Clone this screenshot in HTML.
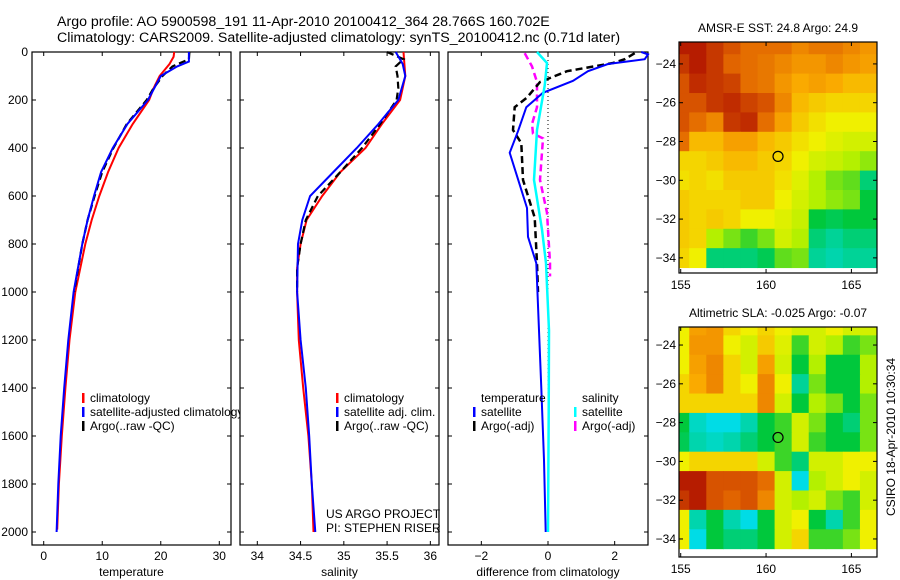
<!DOCTYPE html>
<html><head><meta charset="utf-8"><style>
html,body{margin:0;padding:0;background:#fff;width:900px;height:580px;overflow:hidden}
svg{display:block;font-family:"Liberation Sans",sans-serif;font-size:12px}
</style></head><body>
<svg id="c" width="900" height="580" xmlns="http://www.w3.org/2000/svg">
<text x="57" y="26" font-size="14.2">Argo profile: AO 5900598_191 11-Apr-2010 20100412_364 28.766S 160.702E</text>
<text x="57" y="42" font-size="14.2">Climatology: CARS2009. Satellite-adjusted climatology: synTS_20100412.nc (0.71d later)</text>
</svg>
<script>
// ---------- data ----------
const tClimDepth=[0,20,50,100,150,200,300,400,500,600,700,800,1000,1200,1400,1600,1800,1990];
const tClimVal=[22.3,22.2,21.5,19.8,18.8,18.0,15.2,12.8,11,9.5,8.2,7.1,5.4,4.4,3.7,3.1,2.6,2.3];
const tSatDepth=[0,40,60,100,200,300,400,500,600,700,800,1000,1200,1400,1600,1800,2000];
const tSatVal=[24.8,24.8,22.8,20.0,17.8,14.3,11.8,9.8,8.6,7.5,6.6,5.1,4.2,3.5,2.9,2.5,2.2];
const tArgoDepth=[0,30,60,100,150,200,300,400,500,600,700,800,1000];
const tArgoVal=[24.9,24.8,22,20.3,18.8,17.6,14.2,11.9,10,8.7,7.5,6.6,5.2];
const sClimDepth=[0,100,200,300,400,500,600,700,800,900,1000,1200,1400,1600,1800,2000];
const sClimVal=[35.69,35.71,35.65,35.44,35.25,34.96,34.75,34.57,34.5,34.46,34.46,34.48,34.53,34.59,34.63,34.65];
const sSatDepth=[0,50,100,200,300,400,500,600,700,800,1000,1200,1400,1600,1800,2000];
const sSatVal=[35.6,35.68,35.71,35.63,35.4,35.15,34.88,34.61,34.52,34.47,34.46,34.5,34.56,34.6,34.63,34.67];
const sArgoDepth=[0,30,60,100,150,200,300,400,500,600,700,800,900,1000];
const sArgoVal=[35.5,35.69,35.6,35.62,35.63,35.61,35.42,35.21,34.96,34.7,34.56,34.5,34.46,34.46];
const dTSatDepth=[0,10,30,50,80,120,170,230,330,420,530,650,770,880,1160,1400,1700,2000];
const dTSatVal=[2.8,3.0,2.9,1.8,1.2,0.75,-0.15,-0.65,-0.9,-1.15,-0.9,-0.63,-0.6,-0.35,-0.27,-0.2,-0.12,-0.07];
const dTArgoDepth=[5,30,46,80,125,190,230,325,380,533,690,880,1000];
const dTArgoVal=[2.6,2.3,1.95,0.57,-0.24,-0.63,-1.0,-1.05,-0.8,-0.75,-0.4,-0.33,-0.3];
const dSSatDepth=[0,46,140,325,533,740,880,1160,1500,2000];
const dSSatVal=[-0.33,-0.03,-0.1,-0.33,-0.42,-0.18,-0.06,0.03,0.02,0.0];
const dSArgoDepth=[5,60,125,230,300,340,360,533,670,880,935];
const dSArgoVal=[-0.7,-0.48,-0.33,-0.33,-0.48,-0.45,-0.15,-0.24,-0.03,0.06,0.06];
const depthTicks=[0,200,400,600,800,1000,1200,1400,1600,1800,2000];
const tempTicks=[0,10,20,30];
const salTicks=[34,34.5,35,35.5,36];
const diffTicks=[-2,0,2];
const lonTicks=[155,160,165];
const latTicks=[-24,-26,-28,-30,-32,-34];
const mapLats=[-23,-24,-25,-26,-27,-28,-29,-30,-31,-32,-33,-34];
const mapLons=[155,156,157,158,159,160,161,162,163,164,165,166];
const sstGrid=[
[0.95,0.95,0.9,0.85,0.8,0.8,0.8,0.75,0.78,0.78,0.75,0.72],
[0.9,0.95,0.9,0.82,0.8,0.78,0.75,0.72,0.72,0.75,0.72,0.7],
[0.85,0.92,0.9,0.88,0.8,0.78,0.72,0.68,0.7,0.68,0.65,0.65],
[0.85,0.85,0.9,0.92,0.88,0.85,0.75,0.65,0.62,0.6,0.6,0.6],
[0.85,0.8,0.75,0.9,0.92,0.8,0.7,0.62,0.58,0.55,0.55,0.55],
[0.8,0.65,0.65,0.7,0.7,0.65,0.62,0.58,0.55,0.52,0.5,0.5],
[0.6,0.6,0.62,0.65,0.65,0.62,0.6,0.55,0.5,0.48,0.45,0.42],
[0.58,0.6,0.58,0.62,0.62,0.62,0.58,0.52,0.45,0.4,0.38,0.25],
[0.62,0.6,0.6,0.6,0.62,0.62,0.55,0.5,0.45,0.42,0.4,0.3],
[0.62,0.6,0.62,0.6,0.55,0.55,0.52,0.48,0.3,0.28,0.3,0.3],
[0.62,0.6,0.45,0.4,0.35,0.4,0.5,0.45,0.25,0.22,0.25,0.25],
[0.6,0.55,0.25,0.25,0.25,0.28,0.38,0.4,0.22,0.2,0.22,0.22]];
const slaGrid=[
[0.55,0.7,0.72,0.6,0.55,0.6,0.55,0.5,0.5,0.55,0.5,0.5],
[0.55,0.72,0.72,0.55,0.5,0.62,0.52,0.35,0.5,0.45,0.35,0.4],
[0.55,0.7,0.75,0.6,0.5,0.7,0.5,0.3,0.45,0.3,0.3,0.45],
[0.6,0.68,0.75,0.6,0.55,0.75,0.55,0.22,0.4,0.3,0.3,0.45],
[0.6,0.6,0.6,0.6,0.6,0.75,0.5,0.3,0.45,0.4,0.3,0.4],
[0.3,0.18,0.15,0.15,0.2,0.3,0.35,0.5,0.4,0.3,0.25,0.4],
[0.28,0.2,0.18,0.2,0.25,0.3,0.35,0.5,0.35,0.3,0.3,0.4],
[0.55,0.6,0.6,0.6,0.6,0.5,0.35,0.25,0.5,0.5,0.55,0.55],
[0.95,0.95,0.85,0.85,0.85,0.8,0.5,0.15,0.45,0.5,0.55,0.5],
[0.9,0.95,0.85,0.82,0.85,0.75,0.5,0.45,0.5,0.4,0.35,0.5],
[0.55,0.2,0.3,0.2,0.15,0.3,0.5,0.55,0.3,0.2,0.35,0.55],
[0.55,0.15,0.3,0.25,0.25,0.3,0.5,0.6,0.35,0.35,0.4,0.55]];
const argoLon=[160.702];
const argoLat=[-28.766];

// ---------- helpers ----------
const NS="http://www.w3.org/2000/svg";
const svg=document.getElementById('c');
function mk(tag,attrs,parent){const e=document.createElementNS(NS,tag);for(const k in attrs)e.setAttribute(k,attrs[k]);(parent||svg).appendChild(e);return e;}
function txt(x,y,s,anchor,parent,size){const e=mk('text',{x:x,y:y,'text-anchor':anchor||'start'},parent);if(size)e.setAttribute('font-size',size);e.textContent=s;return e;}
const yTop=52,yBot=545;
const yD=d=>yTop+d*0.24;

function panel(name,x0,x1,xmin,xmax,xt,xlabel,leftLabels){
  const g=mk('g',{});
  
  
  mk('rect',{x:x0,y:yTop,width:x1-x0,height:yBot-yTop,fill:'#fff',stroke:'#000','stroke-width':1.2},g);
  const xs=v=>x0+(v-xmin)/(xmax-xmin)*(x1-x0);
  depthTicks.forEach(d=>{const y=yD(d);
    const t1=mk('line',{x1:x0,x2:x0+4,y1:y,y2:y,stroke:'#000'},g);
    
    mk('line',{x1:x1-4,x2:x1,y1:y,y2:y,stroke:'#000'},g);
    if(leftLabels){const l=txt(x0-4,y+4,String(d),'end',g);}
  });
  xt.forEach(v=>{const x=xs(v);
    mk('line',{x1:x,x2:x,y1:yBot,y2:yBot-4,stroke:'#000'},g);
    mk('line',{x1:x,x2:x,y1:yTop,y2:yTop+4,stroke:'#000'},g);
    const l=txt(x,yBot+15,String(v).replace('-','−'),'middle',g);
    
  });
  const xl=txt((x0+x1)/2,yBot+31,xlabel,'middle',g);
  
  return {g,xs};
}
function line(p,depths,vals,color,w,dash,name){
  const pts=depths.map((d,i)=>p.xs(vals[i]).toFixed(1)+','+yD(d).toFixed(1)).join(' ');
  const e=mk('polyline',{points:pts,fill:'none',stroke:color,'stroke-width':w},p.g);
  if(dash)e.setAttribute('stroke-dasharray',dash);
  
  
}
function legend(g,x,y,color,label,name){
  mk('rect',{x:x,y:y-9,width:2.5,height:10,fill:color},g);
  const t=txt(x+8,y,label,'start',g);
  
  
}

// Panel 1: temperature
const p1=panel('temperature',32,231,-2,32,tempTicks,'temperature',true);
line(p1,tClimDepth,tClimVal,'#f00',2,null,'temp-climatology-line');
line(p1,tArgoDepth,tArgoVal,'#000',2.2,'7,4','temp-argo-line');
line(p1,tSatDepth,tSatVal,'#00f',2,null,'temp-satellite-line');
legend(p1.g,82,402,'#f00','climatology','legend-climatology');
legend(p1.g,82,416,'#00f','satellite-adjusted climatology','legend-satellite-adjusted');
legend(p1.g,82,430,'#000','Argo(..raw -QC)','legend-argo-raw');

// Panel 2: salinity
const p2=panel('salinity',240,439,33.8,36.1,salTicks,'salinity',false);
line(p2,sClimDepth,sClimVal,'#f00',2,null,'sal-climatology-line');
line(p2,sArgoDepth,sArgoVal,'#000',2.2,'7,4','sal-argo-line');
line(p2,sSatDepth,sSatVal,'#00f',2,null,'sal-satellite-line');
legend(p2.g,336,402,'#f00','climatology','legend-climatology-2');
legend(p2.g,336,416,'#00f','satellite adj. clim.','legend-satellite-adj-2');
legend(p2.g,336,430,'#000','Argo(..raw -QC)','legend-argo-raw-2');
const c1=txt(326,518,'US ARGO PROJECT','start',p2.g);

const c2=txt(326,532,'PI: STEPHEN RISER','start',p2.g);


// Panel 3: difference
const p3=panel('difference',448,648,-3,3,diffTicks,'difference from climatology',false);
mk('line',{x1:p3.xs(0),x2:p3.xs(0),y1:yTop,y2:yD(2000),stroke:'#000','stroke-width':1,'stroke-dasharray':'1,3'},p3.g);
line(p3,dSArgoDepth,dSArgoVal,'#f0f',2.5,'7,4','diff-sal-argo-line');
line(p3,dTArgoDepth,dTArgoVal,'#000',2.5,'7,4','diff-temp-argo-line');
line(p3,dTSatDepth,dTSatVal,'#00f',2,null,'diff-temp-satellite-line');
line(p3,dSSatDepth,dSSatVal,'#0ff',2.5,null,'diff-sal-satellite-line');
const lt=txt(481,402,'temperature','start',p3.g);
const ls=txt(582,402,'salinity','start',p3.g);
legend(p3.g,473,416,'#00f','satellite','legend-temp-satellite');
legend(p3.g,473,430,'#000','Argo(-adj)','legend-temp-argo');
legend(p3.g,574,416,'#0ff','satellite','legend-sal-satellite');
legend(p3.g,574,430,'#f0f','Argo(-adj)','legend-sal-argo');

// ---------- maps ----------
function cmap(v){
  const stops=[[0,[40,120,255]],[0.15,[0,220,230]],[0.3,[0,200,60]],[0.45,[180,240,0]],[0.55,[240,240,0]],[0.68,[250,170,0]],[0.82,[225,100,0]],[1,[165,0,0]]];
  for(let i=1;i<stops.length;i++){if(v<=stops[i][0]){const a=stops[i-1],b=stops[i];const t=(v-a[0])/(b[0]-a[0]);
    return 'rgb('+a[1].map((c,k)=>Math.round(c+(b[1][k]-c)*t)).join(',')+')';}}
  return 'rgb(165,0,0)';
}
function drawMap(name,grid,y0,y1,latTop,latBot,title){
  const g=mk('g',{});
  
  
  const x0=679,x1=877,lonMin=154.9,lonMax=166.5;
  const xs=v=>x0+(v-lonMin)/(lonMax-lonMin)*(x1-x0);
  const ys=v=>y0+(latTop-v)/(latTop-latBot)*(y1-y0);
  grid.forEach((row,r)=>row.forEach((v,c)=>{
    const lat=mapLats[r],lon=mapLons[c];
    const xa=Math.max(x0,xs(lon-0.5)),xb=Math.min(x1,xs(lon+0.5));
    const ya=Math.max(y0,ys(lat+0.5)),yb=Math.min(y1,ys(lat-0.5));
    const cell=mk('rect',{x:xa,y:ya,width:xb-xa+0.5,height:yb-ya+0.5,fill:cmap(v)},g);
    
    
  }));
  mk('rect',{x:x0,y:y0,width:x1-x0,height:y1-y0,fill:'none',stroke:'#000','stroke-width':1.2},g);
  lonTicks.forEach(v=>{const x=xs(v);
    mk('line',{x1:x,x2:x,y1:y1,y2:y1-4,stroke:'#000'},g);
    mk('line',{x1:x,x2:x,y1:y0,y2:y0+4,stroke:'#000'},g);
    const l=txt(x,y1+16,String(v),'middle',g);
  });
  latTicks.forEach(v=>{const y=ys(v);
    mk('line',{x1:x0,x2:x0+4,y1:y,y2:y,stroke:'#000'},g);
    mk('line',{x1:x1-4,x2:x1,y1:y,y2:y,stroke:'#000'},g);
    const l=txt(x0-3,y+4,String(v).replace('-','−'),'end',g);
  });
  argoLon.forEach((lo,i)=>{
    const m=mk('circle',{cx:xs(lo),cy:ys(argoLat[i]),r:5,fill:'none',stroke:'#000','stroke-width':1.2},g);
    
  });
  const t=txt((x0+x1)/2,y0-10,title,'middle',g);
  
}
drawMap('sst-map',sstGrid,42,273,-22.87,-34.78,'AMSR-E SST: 24.8 Argo: 24.9');
drawMap('sla-map',slaGrid,327,557,-23.07,-34.93,'Altimetric SLA: -0.025 Argo: -0.07');
const vt=txt(0,0,'CSIRO 18-Apr-2010 10:30:34','middle');
vt.setAttribute('transform','translate(895,437) rotate(-90)');


</script>
</body></html>
